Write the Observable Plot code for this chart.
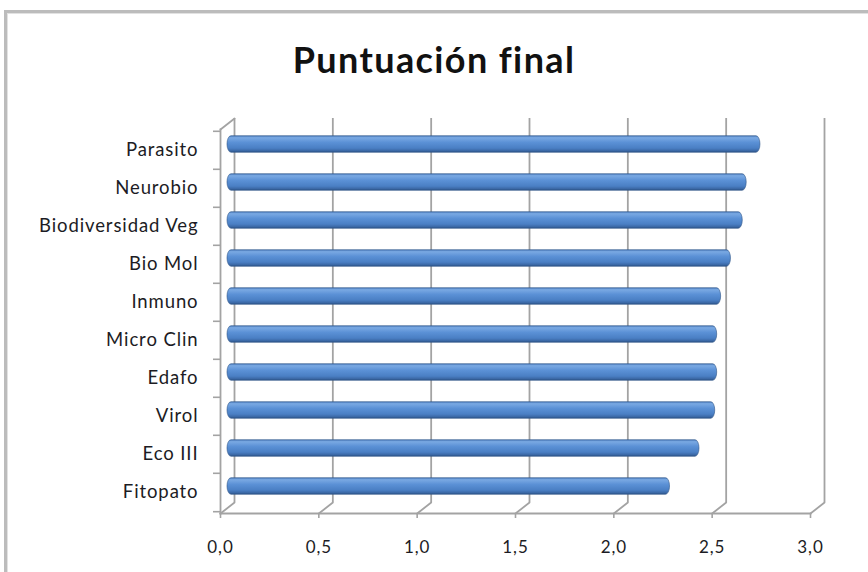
<!DOCTYPE html>
<html>
<head>
<meta charset="utf-8">
<script src="https://cdn.jsdelivr.net/npm/d3@7"></script>
<script src="https://cdn.jsdelivr.net/npm/@observablehq/plot@0.6"></script>
<style>
  html, body { margin: 0; padding: 0; background: #fff; }
  #wrap { position: relative; width: 868px; height: 572px; overflow: hidden; }
  #border { position: absolute; left: 4px; top: 10px; width: 900px; height: 600px;
            border-left: 3px solid #bcbcbc; border-top: 3px solid #bcbcbc;
            box-shadow: inset 1px 1px 0 #e2e2e2; }
  #title { position: absolute; left: 0; width: 868px; top: 37px; text-align: center;
           font-family: Lato, "Open Sans", sans-serif; font-weight: bold; font-size: 36px;
           letter-spacing: 1.4px; color: #111; line-height: 44px; }
  #chart { position: absolute; left: 0; top: 0; }
</style>
</head>
<body>
<div id="wrap">
  <div id="border"></div>
  <div id="title">Puntuación final</div>
  <div id="chart"></div>
</div>
<script>
const categories = ["Parasito", "Neurobio", "Biodiversidad Veg", "Bio Mol", "Inmuno",
                    "Micro Clin", "Edafo", "Virol", "Eco III", "Fitopato"];
const values = [2.71, 2.64, 2.62, 2.56, 2.51, 2.49, 2.49, 2.48, 2.40, 2.25];
const xTicks = [0, 0.5, 1, 1.5, 2, 2.5, 3];

const data = categories.map((name, i) => ({name, value: values[i]}));

const gray = "#a3a3a3";
const spike = {draw(context, l) { context.moveTo(0, 0); context.lineTo(0, -l); }};

function gradientDefs() {
  const defs = d3.create("svg:defs");
  const g = defs.append("linearGradient").attr("id", "cyl")
    .attr("x1", 0).attr("y1", 0).attr("x2", 0).attr("y2", 1);
  [["0%", "#4a7cbd"], ["12%", "#7aa9e3"], ["40%", "#5b91d6"], ["75%", "#4a7fc4"], ["92%", "#3a66a3"], ["100%", "#2b4f82"]]
    .forEach(([o, c]) => g.append("stop").attr("offset", o).attr("stop-color", c));
  return defs.node();
}

const chart = Plot.plot({
  width: 868,
  height: 572,
  marginTop: 129,
  marginBottom: 59,
  marginLeft: 220,
  marginRight: 58,
  style: {fontFamily: "Lato, 'Open Sans', sans-serif", background: "transparent", letterSpacing: "0.9px"},
  x: {domain: [0, 3]},
  y: {domain: categories, padding: 0},
  marks: [
    gradientDefs,
    // back wall gridlines
    Plot.ruleX(xTicks, {x: d => d, dx: 14, dy: -11, stroke: gray, strokeWidth: 1.8}),
    // floor diagonals
    Plot.vector(xTicks, {x: d => d, frameAnchor: "bottom", length: 17.8, rotate: 52, anchor: "start",
                         shape: spike, stroke: gray, strokeWidth: 1.8}),
    // top-left diagonal
    Plot.vector([0], {x: d => d, frameAnchor: "top", length: 17.8, rotate: 52, anchor: "start",
                      shape: spike, stroke: gray, strokeWidth: 1.8}),
    // front axes lines
    Plot.frame({anchor: "bottom", stroke: gray, strokeWidth: 1.8}),
    Plot.frame({anchor: "left", stroke: gray, strokeWidth: 1.8}),
    // category boundary ticks
    Plot.axisY({tickSize: 7, text: null, dy: -19.2, stroke: gray, strokeWidth: 1.6, label: null}),
    Plot.axisY({ticks: [categories[categories.length - 1]], tickSize: 7, text: null, dy: 19.2,
                stroke: gray, strokeWidth: 1.6, label: null}),
    // category labels
    Plot.axisY({tickSize: 0, tickPadding: 22, fontSize: 18.5, fill: "#1c1c24", label: null}),
    // x ticks and labels
    Plot.axisX({ticks: xTicks, tickSize: 5, text: null, stroke: gray, strokeWidth: 1.6, label: null}),
    Plot.axisX({ticks: xTicks, tickSize: 0, tickPadding: 27, fontSize: 17, fill: "#1c1c24",
                tickFormat: d => d.toFixed(1).replace(".", ","), label: null}),
    // bars (cylinders)
    Plot.barX(data, {x: "value", y: "name", dx: 7, dy: -6, insetTop: 10.7, insetBottom: 10.7,
                     rx: 4, ry: 8.5, fill: "url(#cyl)", stroke: "#2f5688", strokeWidth: 0.6})
  ]
});
document.getElementById("chart").appendChild(chart);
</script>
</body>
</html>
